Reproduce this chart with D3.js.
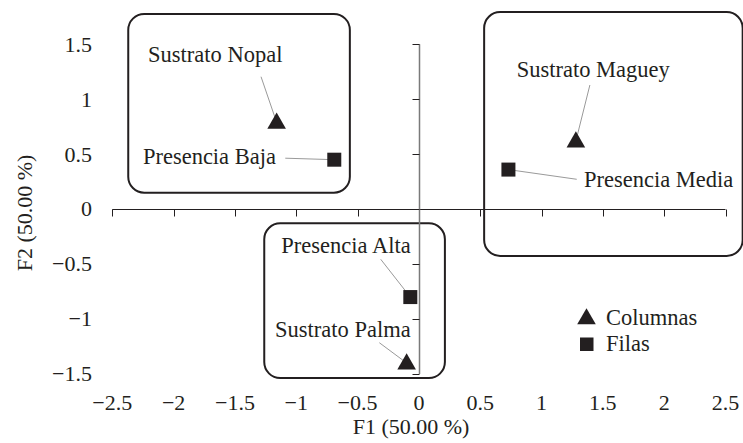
<!DOCTYPE html>
<html><head><meta charset="utf-8">
<script src="https://cdn.jsdelivr.net/npm/d3@7"></script>
<style>
html,body{margin:0;padding:0;background:#fff;}
svg{display:block;}
</style></head>
<body><svg id="c" width="743" height="443"></svg>
<script>
// ---- data ----
const xTicks = [-2.5,-2,-1.5,-1,-0.5,0,0.5,1,1.5,2,2.5];
const yTicks = [-1.5,-1,-0.5,0,0.5,1,1.5];
const xTitle = "F1 (50.00 %)";
const yTitle = "F2 (50.00 %)";
const colLabels = ["Sustrato Nopal","Sustrato Maguey","Sustrato Palma"];
const colF1 = [-1.16, 1.28, -0.10];
const colF2 = [0.79, 0.62, -1.40];
const rowLabels = ["Presencia Baja","Presencia Media","Presencia Alta"];
const rowF1 = [-0.69, 0.73, -0.07];
const rowF2 = [0.45, 0.36, -0.80];
const legendLabels = ["Columnas","Filas"];
// group boxes in data units
const boxX0 = [-2.37, 0.532, -1.261];
const boxX1 = [-0.563, 2.64, 0.212];
const boxY0 = [0.15, -0.426, -1.537];
const boxY1 = [1.776, 1.794, -0.129];

// ---- layout (label offsets from point, px) ----
const colLab = [
  {dx:-128.6, dy:-60.6, anchor:"start", lx:-15.6, ly:-45.6},
  {dx:-59.2,  dy:-64.3, anchor:"start", lx:14,    ly:-56},
  {dx:4,      dy:-26.3, anchor:"end",   lx:-27.3, ly:-20.3}
];
const rowLab = [
  {dx:-58.3, dy:4.5,  anchor:"end",   lx:-49,   ly:-1.5},
  {dx:75.6,  dy:17,   anchor:"start", lx:68.3,  ly:9.7},
  {dx:0.4,   dy:-43.8,anchor:"end",   lx:-29.6, ly:-37.8}
];

const FONT = "Liberation Serif";
const INK = "#231f20";
const svg = d3.select("#c");
const x = d3.scaleLinear().domain([-2.5,2.5]).range([112.3,725.5]);
const y = d3.scaleLinear().domain([-1.5,1.5]).range([374,44.3]);
const fmt = v => (v<0?"\u2212":"") + Math.abs(v);
const T = sel => sel.attr("font-family",FONT).attr("fill",INK);

// boxes
svg.append("g").selectAll("rect").data(boxX0).join("rect")
  .attr("x",(d,i)=>x(boxX0[i])).attr("y",(d,i)=>y(boxY1[i]))
  .attr("width",(d,i)=>x(boxX1[i])-x(boxX0[i]))
  .attr("height",(d,i)=>y(boxY0[i])-y(boxY1[i]))
  .attr("rx",16).attr("ry",16)
  .attr("fill","none").attr("stroke",INK).attr("stroke-width",2);

// x axis along y=0, ticks downward
const x0 = x(0), y0 = y(0);
const gx = svg.append("g").attr("transform",`translate(0,${Math.round(y0)+0.5})`);
gx.append("line").attr("x1",x(-2.5)).attr("x2",x(2.5)).attr("stroke",INK).attr("stroke-width",1);
gx.selectAll("line.t").data(xTicks).join("line").attr("class","t")
  .attr("x1",d=>Math.round(x(d))+0.5).attr("x2",d=>Math.round(x(d))+0.5)
  .attr("y1",0).attr("y2",7).attr("stroke",INK).attr("stroke-width",1);

// y axis along x=0, ticks to the left
const gy = svg.append("g").attr("transform",`translate(${Math.round(x0)+0.5},0)`);
gy.append("line").attr("y1",y(1.5)).attr("y2",y(-1.5)).attr("stroke","#7a7a7a").attr("stroke-width",1.5);
gy.selectAll("line.t").data(yTicks).join("line").attr("class","t")
  .attr("y1",d=>Math.round(y(d))+0.5).attr("y2",d=>Math.round(y(d))+0.5)
  .attr("x1",-7).attr("x2",0).attr("stroke",INK).attr("stroke-width",1);

// tick labels (low position)
svg.append("g").selectAll("text").data(xTicks).join("text").call(T)
  .attr("x",d=>x(d)).attr("y",410).attr("text-anchor","middle")
  .attr("font-size",22).text(fmt);
svg.append("g").selectAll("text").data(yTicks).join("text").call(T)
  .attr("x",92).attr("y",d=>y(d)+7.3).attr("text-anchor","end")
  .attr("font-size",22).text(fmt);

// axis titles
svg.append("text").call(T).attr("x",411).attr("y",434).attr("text-anchor","middle")
  .attr("font-size",22).text(xTitle);
svg.append("text").call(T).attr("transform",`translate(32,213) rotate(-90)`)
  .attr("text-anchor","middle").attr("font-size",22).text(yTitle);

// leader lines
const leaders = svg.append("g").attr("stroke","#9a9a9a").attr("stroke-width",1);
colLabels.forEach((l,i)=>{
  const px=x(colF1[i]), py=y(colF2[i]);
  leaders.append("line").attr("x1",px+colLab[i].lx).attr("y1",py+colLab[i].ly).attr("x2",px).attr("y2",py);
});
rowLabels.forEach((l,i)=>{
  const px=x(rowF1[i]), py=y(rowF2[i]);
  leaders.append("line").attr("x1",px+rowLab[i].lx).attr("y1",py+rowLab[i].ly).attr("x2",px).attr("y2",py);
});

// markers
const tri = d3.symbol().type(d3.symbolTriangle).size(150);
svg.append("g").selectAll("path").data(colF1).join("path")
  .attr("d",tri).attr("transform",(d,i)=>`translate(${x(colF1[i])},${y(colF2[i])+1})`)
  .attr("fill",INK);
svg.append("g").selectAll("rect").data(rowF1).join("rect")
  .attr("x",(d,i)=>x(rowF1[i])-7).attr("y",(d,i)=>y(rowF2[i])-7)
  .attr("width",14).attr("height",14).attr("fill",INK);

// point labels
svg.append("g").selectAll("text").data(colLabels).join("text").call(T)
  .attr("x",(d,i)=>x(colF1[i])+colLab[i].dx).attr("y",(d,i)=>y(colF2[i])+colLab[i].dy)
  .attr("text-anchor",(d,i)=>colLab[i].anchor).attr("font-size",22.5).text(d=>d);
svg.append("g").selectAll("text").data(rowLabels).join("text").call(T)
  .attr("x",(d,i)=>x(rowF1[i])+rowLab[i].dx).attr("y",(d,i)=>y(rowF2[i])+rowLab[i].dy)
  .attr("text-anchor",(d,i)=>rowLab[i].anchor).attr("font-size",22.5).text(d=>d);

// legend
const lg = svg.append("g");
lg.append("path").attr("d",tri).attr("transform","translate(586.5,319)").attr("fill",INK);
lg.append("rect").attr("x",580).attr("y",337.5).attr("width",13.5).attr("height",13.5).attr("fill",INK);
lg.selectAll("text").data(legendLabels).join("text").call(T)
  .attr("x",606).attr("y",(d,i)=>325+i*26).attr("font-size",22.5).text(d=>d);
</script></body></html>
